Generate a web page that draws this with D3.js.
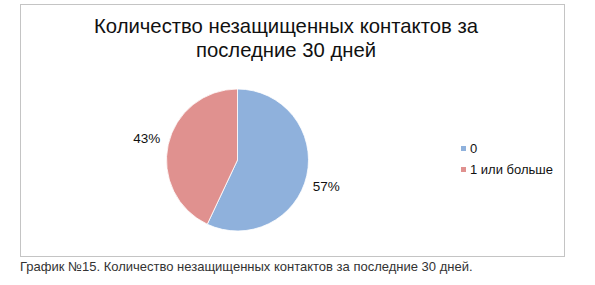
<!DOCTYPE html>
<html>
<head>
<meta charset="utf-8">
<script src="https://cdn.jsdelivr.net/npm/d3@7"></script>
<style>
  html, body { margin: 0; padding: 0; background: #fff; }
  svg { display: block; font-family: "Liberation Sans", Arial, sans-serif; }
</style>
</head>
<body>
<svg id="chart" width="595" height="285"></svg>
<script>
// Доли незащищенных контактов за последние 30 дней
const categories = ['0', '1 или больше'];
const shares = [57, 43];
const colors = ['#8fb1dc', '#e0918f'];

const titleLines = ['Количество незащищенных контактов за', 'последние 30 дней'];
const caption = 'График №15. Количество незащищенных контактов за последние 30 дней.';

const svg = d3.select('#chart');

// рамка области диаграммы
svg.append('rect')
  .attr('x', 20.5)
  .attr('y', 4.5)
  .attr('width', 544)
  .attr('height', 252)
  .attr('fill', '#fff')
  .attr('stroke', '#c4c4c4')
  .attr('stroke-width', 1);

svg.append('g')
  .selectAll('text')
  .data(titleLines)
  .join('text')
  .attr('x', 286)
  .attr('y', (_, i) => 33 + i * 24)
  .attr('text-anchor', 'middle')
  .attr('font-size', 20.3)
  .attr('fill', '#111')
  .text((d) => d);

const cx = 237.5;
const cy = 160;
const radius = 71;

const pie = d3.pie().sort(null).value((d) => d)(shares);
const arc = d3.arc().innerRadius(0).outerRadius(radius);
const labelArc = d3.arc().innerRadius(92).outerRadius(92);

const pieGroup = svg.append('g').attr('transform', `translate(${cx},${cy})`);

pieGroup.selectAll('path')
  .data(pie)
  .join('path')
  .attr('d', arc)
  .attr('fill', (_, i) => colors[i])
  .attr('stroke', '#fff')
  .attr('stroke-width', 0.8);

pieGroup.selectAll('text')
  .data(pie)
  .join('text')
  .attr('x', (d) => labelArc.centroid(d)[0] - 1)
  .attr('y', (d) => labelArc.centroid(d)[1] + (d.index === 0 ? 11 : 3))
  .attr('text-anchor', 'middle')
  .attr('font-size', 13.5)
  .attr('fill', '#111')
  .text((d) => `${d.data}%`);

// легенда
const legendScale = d3.scalePoint().domain(categories).range([149, 170]);

const legend = svg.append('g')
  .selectAll('g')
  .data(categories)
  .join('g')
  .attr('transform', (d) => `translate(461,${legendScale(d)})`);

legend.append('rect')
  .attr('x', 0)
  .attr('y', -3)
  .attr('width', 5)
  .attr('height', 5)
  .attr('fill', (_, i) => colors[i]);

legend.append('text')
  .attr('x', 9)
  .attr('y', 4)
  .attr('font-size', 13)
  .attr('fill', '#111')
  .text((d) => d);

svg.append('text')
  .attr('x', 20)
  .attr('y', 271)
  .attr('font-size', 13)
  .attr('fill', '#333')
  .text(caption);
</script>
</body>
</html>
